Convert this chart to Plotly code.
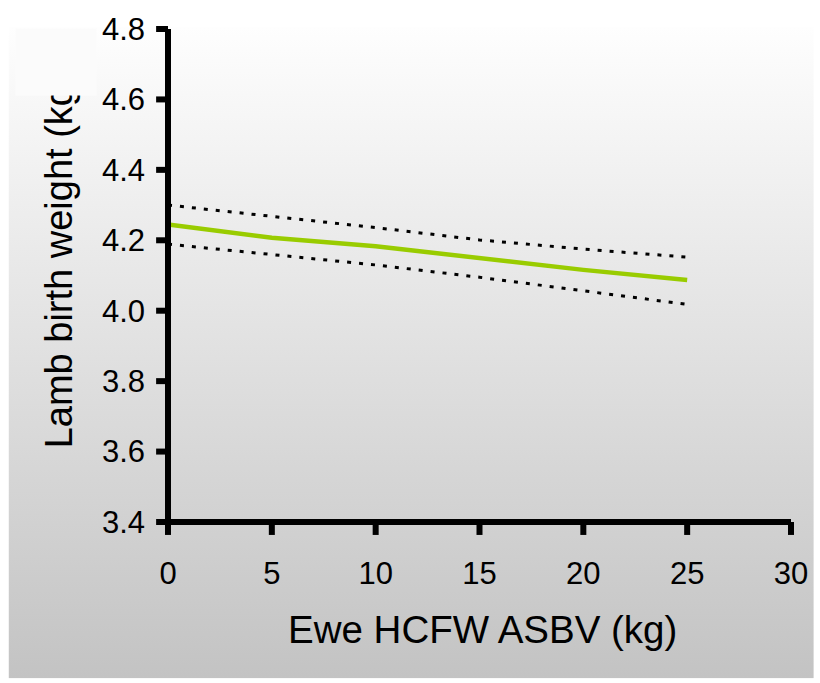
import base64
import plotly.graph_objects as go

# Data
asbv = [0, 5, 10, 15, 20, 25]
birth_weight = [4.245, 4.207, 4.183, 4.150, 4.116, 4.087]
upper_ci = [4.300, 4.268, 4.236, 4.201, 4.175, 4.152]
lower_ci = [4.189, 4.160, 4.130, 4.095, 4.057, 4.018]
x_ticks = [0, 5, 10, 15, 20, 25, 30]
y_ticks = [3.4, 3.6, 3.8, 4.0, 4.2, 4.4, 4.6, 4.8]
x_range = [0, 30]
y_range = [3.4, 4.8]

W, H = 820, 683
L, R, T, B = 168, 23, 27, 161
pw, ph = W - L - R, H - T - B

def px_x(px):
    return (px - L) / pw

def px_y(py):
    return (H - B - py) / ph

svg = ('<svg xmlns="http://www.w3.org/2000/svg" width="813" height="654" viewBox="0 0 813 654" '
       'preserveAspectRatio="none"><defs><linearGradient id="g" x1="0" y1="0" x2="0" y2="1">'
       '<stop offset="0" stop-color="#fefefe"/><stop offset="1" stop-color="#c3c3c3"/>'
       '</linearGradient></defs><rect x="0" y="0" width="813" height="654" fill="url(#g)"/></svg>')
src = "data:image/svg+xml;base64," + base64.b64encode(svg.encode()).decode()

fig = go.Figure()
fig.add_trace(go.Scatter(x=asbv, y=upper_ci, mode="lines",
                         line=dict(color="black", width=3, dash="4px,8px"), showlegend=False))
fig.add_trace(go.Scatter(x=asbv, y=lower_ci, mode="lines",
                         line=dict(color="black", width=3, dash="4px,8px"), showlegend=False))
fig.add_trace(go.Scatter(x=asbv, y=birth_weight, mode="lines",
                         line=dict(color="#99cc00", width=4.5), showlegend=False))

# axis lines and bold tick marks (paper coords so nothing is clipped)
LW = 6
shapes = [
    dict(type="line", xref="paper", yref="paper", x0=0, x1=0, y0=-0.006, y1=1.0,
         line=dict(color="black", width=LW)),
    dict(type="line", xref="paper", yref="paper", x0=-0.005, x1=1.0, y0=0, y1=0,
         line=dict(color="black", width=LW)),
]
for v in x_ticks:
    xp = (v - x_range[0]) / (x_range[1] - x_range[0])
    shapes.append(dict(type="line", xref="paper", yref="paper", x0=xp, x1=xp,
                       y0=0, y1=-13 / ph, line=dict(color="black", width=LW)))
for v in y_ticks:
    yp = (v - y_range[0]) / (y_range[1] - y_range[0])
    shapes.append(dict(type="line", xref="paper", yref="paper", x0=0, x1=-12 / pw,
                       y0=yp, y1=yp, line=dict(color="black", width=LW)))

font = "Liberation Sans, Arial, sans-serif"
fig.update_layout(
    width=W, height=H,
    margin=dict(l=L, r=R, t=T, b=B),
    paper_bgcolor="white",
    plot_bgcolor="rgba(0,0,0,0)",
    font=dict(family=font, color="black"),
    images=[dict(source=src, xref="paper", yref="paper",
                 x=px_x(7), y=px_y(25), sizex=813 / pw, sizey=654 / ph,
                 sizing="stretch", xanchor="left", yanchor="top", layer="below")],
    xaxis=dict(range=x_range, tickvals=x_ticks, showgrid=False, zeroline=False,
               showline=False, ticks="",
               tickfont=dict(size=31, family=font), ticklabelstandoff=30),
    yaxis=dict(range=y_range, tickvals=y_ticks, tickformat=".1f", showgrid=False,
               zeroline=False, showline=False, ticks="",
               tickfont=dict(size=31, family=font), ticklabelstandoff=22),
    shapes=shapes,
    annotations=[
        dict(text="Ewe HCFW ASBV (kg)", xref="paper", yref="paper",
             x=px_x(486), y=px_y(630), xanchor="center", yanchor="middle",
             showarrow=False, font=dict(size=38.5, family=font)),
        dict(text="Lamb birth weight (kg)", xref="paper", yref="paper",
             x=px_x(58), y=px_y(450), xanchor="center", yanchor="bottom",
             textangle=-90, showarrow=False, font=dict(size=38, family=font)),
        dict(text=" ", xref="paper", yref="paper", x=px_x(55), y=px_y(60),
             xanchor="center", yanchor="middle", width=80, height=66,
             bgcolor="#fbfbfb", borderpad=0, showarrow=False),
    ],
)

fig.write_html("out.html")
